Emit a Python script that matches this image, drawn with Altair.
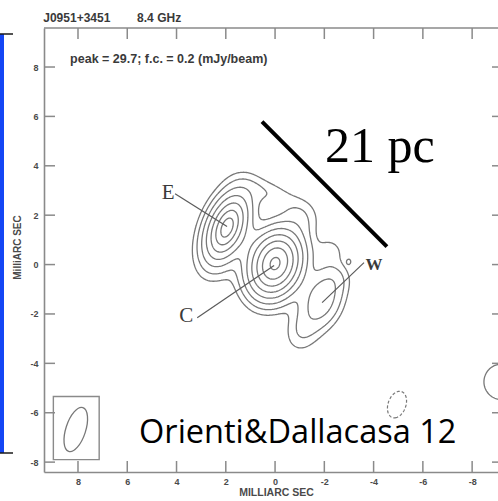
import numpy as np
import pandas as pd
import altair as alt

# ---- map window (milliarcsec; RA offset grows to the left) ----
X_LEFT, X_RIGHT = 9.38, -9.05
Y_BOTTOM, Y_TOP = -8.40, 9.58
W_PX, H_PX = 454, 444
tick_values = [8, 6, 4, 2, 0, -2, -4, -6, -8]

# ---- contour levels (mJy/beam): f.c. = 0.2, doubling, plus one negative ----
levels_pos = [0.2, 0.4, 0.8, 1.6, 3.2, 6.4, 12.8, 25.6]
levels_neg = [-0.2]

# ---- brightness components of J0951+3451 at 8.4 GHz ----
comp_name  = ["E", "C", "W", "bridge", "N", "NW", "NW2", "R", "S", "knot", "edge", "neg"]
comp_x     = [1.95, 0.00, -1.90, 0.97, 0.30, -1.00, -2.25, -2.45, -1.10, -3.00, -9.20, -4.95]
comp_y     = [1.50, 0.04, -1.42, 0.77, 2.90, 1.90, 0.55, -0.55, -2.70, 0.12, -4.75, -5.67]
comp_peak  = [22.0, 29.7, 1.20, 0.30, 0.30, 0.35, 0.25, 0.23, 0.35, 0.24, 0.30, -0.30]
comp_major = [0.44, 0.32, 0.75, 0.90, 0.80, 0.50, 0.38, 0.40, 0.60, 0.09, 0.80, 0.62]
comp_minor = [0.233, 0.24, 0.50, 0.45, 0.35, 0.50, 0.38, 0.40, 0.45, 0.07, 0.80, 0.40]
comp_pa    = [-22, -20, -20, 52, 73, 0, 0, 0, -20, 0, 0, -20]
comp_soft  = [0.5, 2.0, 0, 0, 0, 0, 0, 0, 0, 0, 0, 0]   # >0: exponential disc, 0: gaussian

# ---- restoring beam and its box ----
beam_x, beam_y = [8.09], [-6.68]
beam_box = {"x": [9.00], "x2": [7.14], "y": [-7.90], "y2": [-5.34]}

# ---- annotations ----
label_text = ["E", "C", "W"]
label_x = [4.34, 3.61, -4.02]
label_y = [2.91, -2.10, 0.00]
label_size = [21, 21, 17]
label_weight = ["normal", "normal", "bold"]
leader_x  = [4.06, 3.16, -3.61]
leader_y  = [2.87, -2.15, 0.08]
leader_x2 = [1.95, 0.04, -1.91]
leader_y2 = [1.54, -0.04, -1.54]
bar_x, bar_y, bar_x2, bar_y2 = [0.53], [5.79], [-4.54], [0.73]

GRAY = "#787878"
FRAME = "#8a8a8a"


def sky_model(gx, gy):
    GX, GY = np.meshgrid(gx, gy)
    Z = np.zeros_like(GX)
    for x0, y0, pk, a, b, pa, soft in zip(comp_x, comp_y, comp_peak, comp_major,
                                          comp_minor, comp_pa, comp_soft):
        t = np.radians(pa)
        dx, dy = GX - x0, GY - y0
        u = (dx * np.sin(t) + dy * np.cos(t)) / a
        v = (dx * np.cos(t) - dy * np.sin(t)) / b
        r2 = u ** 2 + v ** 2
        if soft > 0:
            Z += pk * np.exp(-(np.sqrt(r2 + soft ** 2) - soft))
        else:
            Z += pk * np.exp(-0.5 * r2)
    return Z


def trace(gx, gy, Z, level):
    """Marching squares: list of polylines for one level."""
    A = Z >= level
    mixed = ~((A[:-1, :-1] == A[:-1, 1:]) & (A[:-1, 1:] == A[1:, 1:]) & (A[1:, 1:] == A[1:, :-1]))
    adj = {}

    def link(p, q):
        adj.setdefault(p, []).append(q)
        adj.setdefault(q, []).append(p)

    for j, i in zip(*np.nonzero(mixed)):
        j, i = int(j), int(i)
        corners = [A[j, i], A[j, i + 1], A[j + 1, i + 1], A[j + 1, i]]
        sides = [("h", j, i), ("v", j, i + 1), ("h", j + 1, i), ("v", j, i)]
        cut = [s for s in range(4) if corners[s] != corners[(s + 1) % 4]]
        if len(cut) == 2:
            link(sides[cut[0]], sides[cut[1]])
        else:
            centre = Z[j:j + 2, i:i + 2].mean() >= level
            for c in range(4):
                if corners[c] != centre:
                    link(sides[(c - 1) % 4], sides[c])

    def where(key):
        kind, j, i = key
        if kind == "h":
            z0, z1 = Z[j, i], Z[j, i + 1]
            t = (level - z0) / (z1 - z0)
            return gx[i] + t * (gx[i + 1] - gx[i]), gy[j]
        z0, z1 = Z[j, i], Z[j + 1, i]
        t = (level - z0) / (z1 - z0)
        return gx[i], gy[j] + t * (gy[j + 1] - gy[j])

    seen = set()

    def walk(start):
        chain = [start]
        seen.add(start)
        cur = start
        while True:
            nxt = [n for n in adj[cur] if n not in seen]
            if not nxt:
                break
            cur = nxt[0]
            seen.add(cur)
            chain.append(cur)
        return chain

    chains = []
    for key, nb in adj.items():
        if len(nb) == 1 and key not in seen:
            chains.append(walk(key))
    for key in adj:
        if key not in seen:
            ch = walk(key)
            ch.append(ch[0])
            chains.append(ch)
    return [[where(k) for k in ch] for ch in chains]


gx = np.arange(-10.0, 9.40, 0.04)
gy = np.arange(-8.40, 9.60, 0.04)
Z = sky_model(gx, gy)

rows = []
pid = 0
for lev in levels_pos + levels_neg:
    for pts in trace(gx, gy, Z, lev):
        for k, (px, py) in enumerate(pts):
            rows.append((pid, k, round(float(px), 3), round(float(py), 3), lev < 0))
        pid += 1
contours = pd.DataFrame(rows, columns=["path", "k", "x", "y", "neg"])

xs = alt.Scale(domain=[X_LEFT, X_RIGHT], nice=False, zero=False)
ys = alt.Scale(domain=[Y_BOTTOM, Y_TOP], nice=False, zero=False)

axis_common = dict(values=tick_values, ticks=False, grid=False, domain=True,
                   domainColor=FRAME, domainWidth=1.6, labelExpr="'' + datum.value",
                   labelFont="Liberation Sans", labelFontWeight="bold", labelFontSize=9,
                   labelColor="#4a4a4a", titleFont="Liberation Sans",
                   titleFontWeight="bold", titleColor="#4a4a4a")
x_axis = alt.Axis(labelPadding=5, title="MILLIARC SEC", titleFontSize=10.5,
                  titlePadding=1, titleX=W_PX / 2 + 5, **axis_common)
y_axis = alt.Axis(labelPadding=6, title="MilliARC SEC", titleFontSize=10,
                  titleX=-22, titleY=H_PX / 2 - 3, **axis_common)


def X(field):
    return alt.X(field, type="quantitative", scale=xs, axis=x_axis)


def Y(field):
    return alt.Y(field, type="quantitative", scale=ys, axis=y_axis)


pos = alt.Chart(contours[~contours.neg]).mark_line(
    color=GRAY, strokeWidth=1.3, clip=True
).encode(x=X("x"), y=Y("y"), detail="path:N", order="k:Q")
neg = alt.Chart(contours[contours.neg]).mark_line(
    color=GRAY, strokeWidth=1.2, strokeDash=[3, 2], clip=True
).encode(x=X("x"), y=Y("y"), detail="path:N", order="k:Q")

one = pd.DataFrame({"a": [0]})
top_line = alt.Chart(one).mark_rule(color=FRAME, strokeWidth=1.6).encode(
    x=alt.value(0), x2=alt.value(W_PX), y=alt.value(0))

ticks = pd.DataFrame({"t": tick_values})
tick_style = dict(color=FRAME, strokeWidth=1.5)
ticks_top = alt.Chart(ticks).mark_rule(**tick_style).encode(
    x=X("t"), y=alt.value(0), y2=alt.value(11))
ticks_bottom = alt.Chart(ticks).mark_rule(**tick_style).encode(
    x=X("t"), y=alt.value(H_PX), y2=alt.value(H_PX - 11))
ticks_left = alt.Chart(ticks).mark_rule(**tick_style).encode(
    y=Y("t"), x=alt.value(0), x2=alt.value(11))
ticks_right = alt.Chart(ticks).mark_rule(**tick_style).encode(
    y=Y("t"), x=alt.value(W_PX - 6), x2=alt.value(W_PX))

box = alt.Chart(pd.DataFrame(beam_box)).mark_rect(
    fillOpacity=0, stroke=FRAME, strokeWidth=1.4
).encode(x=X("x"), x2="x2:Q", y=Y("y"), y2="y2:Q")
ELLIPSE = "M0,-1 A0.43,1 0 1,1 0,1 A0.43,1 0 1,1 0,-1 Z"
beam = alt.Chart(pd.DataFrame({"x": beam_x, "y": beam_y})).mark_point(
    shape=ELLIPSE, size=2116, angle=18, filled=False, stroke=GRAY, strokeWidth=1.3, opacity=1
).encode(x=X("x"), y=Y("y"))

leaders = alt.Chart(pd.DataFrame({"x": leader_x, "y": leader_y,
                                  "x2": leader_x2, "y2": leader_y2})).mark_rule(
    color="#5a5a5a", strokeWidth=1.2
).encode(x=X("x"), x2="x2:Q", y=Y("y"), y2="y2:Q")

labels_df = pd.DataFrame({"t": label_text, "x": label_x, "y": label_y,
                          "s": label_size, "w": label_weight})
label_layers = [
    alt.Chart(labels_df[labels_df.w == w]).mark_text(
        font="Liberation Serif", color="#3a3a3a", fontWeight=w,
        baseline="middle", align="center"
    ).encode(x=X("x"), y=Y("y"), text="t:N",
             size=alt.Size("s:Q", scale=None, legend=None))
    for w in ["normal", "bold"]
]

scale_bar = alt.Chart(pd.DataFrame({"x": bar_x, "y": bar_y, "x2": bar_x2, "y2": bar_y2})).mark_rule(
    color="black", strokeWidth=4
).encode(x=X("x"), x2="x2:Q", y=Y("y"), y2="y2:Q")


def note(text, x, y, **style):
    return alt.Chart(pd.DataFrame({"t": [text], "x": [x], "y": [y]})).mark_text(
        align="left", baseline="alphabetic", **style
    ).encode(x=X("x"), y=Y("y"), text="t:N")


hdr_style = dict(font="Liberation Sans", fontWeight="bold", fontSize=12, color="#3a3a3a")
t_src = note("J0951+3451", 9.41, 9.82, **hdr_style)
t_freq = note("8.4 GHz", 5.60, 9.82, **hdr_style)
t_peak = note("peak = 29.7;  f.c. = 0.2  (mJy/beam)", 8.32, 8.18,
              font="Liberation Sans", fontWeight="bold", fontSize=12.5, color="#3a3a3a")
t_pc = note("21 pc", -2.03, 4.17, font="Liberation Serif", fontSize=50, color="black")
t_ref = note("Orienti&Dallacasa 12", 5.52, -7.21, font="Open Sans", fontSize=32.5, color="black")

# slide decoration on the left edge
blue = alt.Chart(one).mark_rect(color="#1446f5").encode(
    x=alt.value(-44), x2=alt.value(-40), y=alt.value(6), y2=alt.value(425))
edge_top = alt.Chart(one).mark_rule(color="#1a1a1a", strokeWidth=1.5).encode(
    x=alt.value(-44), x2=alt.value(-31), y=alt.value(6))
edge_bottom = alt.Chart(one).mark_rule(color="#1a1a1a", strokeWidth=1.5).encode(
    x=alt.value(-44), x2=alt.value(-31), y=alt.value(425))

chart = alt.layer(
    pos, neg, top_line, ticks_top, ticks_bottom, ticks_left, ticks_right,
    box, beam, leaders, *label_layers, scale_bar,
    t_src, t_freq, t_peak, t_pc, t_ref, blue, edge_top, edge_bottom,
).properties(
    width=W_PX, height=H_PX,
    autosize=alt.AutoSizeParams(type="none"),
    padding={"left": 44, "top": 28, "right": 0, "bottom": 29},
    background="white",
).configure_view(stroke=None)

chart.save("out.html", embed_options={"renderer": "svg", "actions": False})
